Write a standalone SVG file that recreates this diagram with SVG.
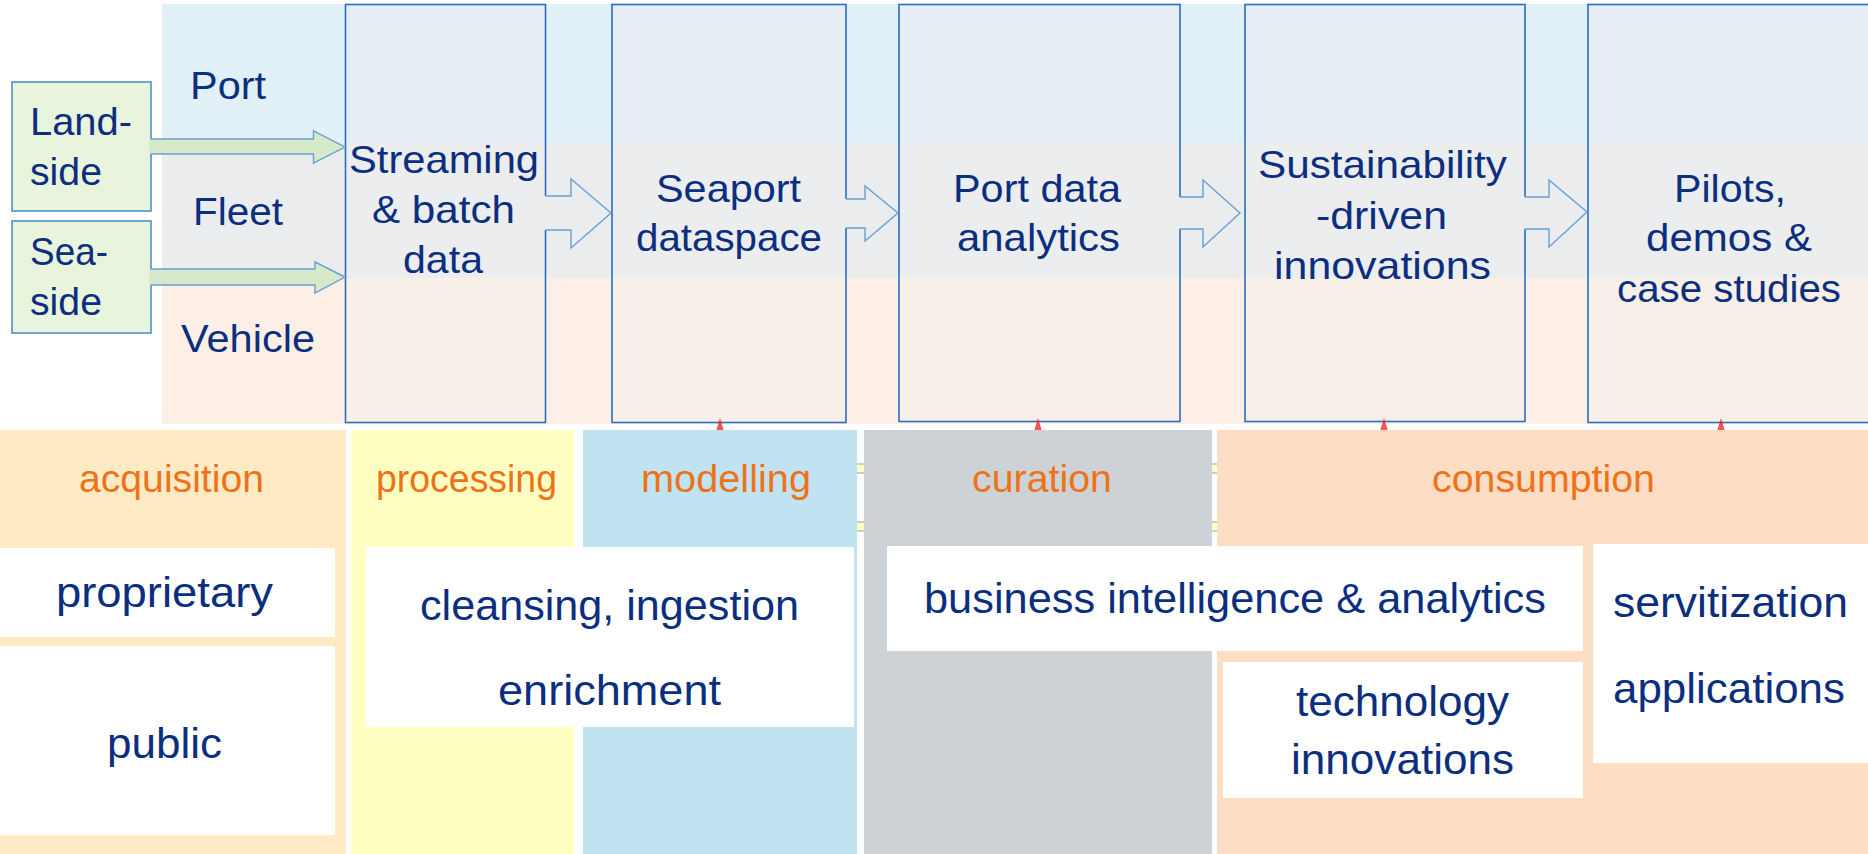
<svg xmlns="http://www.w3.org/2000/svg" width="1868" height="854" viewBox="0 0 1868 854">
<style>
text{font-family:"Liberation Sans",Arial,sans-serif;}
.t{fill:#0B2F7E;font-size:39px;}
.w{fill:#0B2F7E;font-size:42px;}
.o{fill:#EE7219;font-size:38px;}
.box{fill:#F0F0F0;fill-opacity:0.3;stroke:#2A6FC0;stroke-width:1.6;}
.gbox{fill:#E9F4DC;stroke:#3F8ACB;stroke-width:1.5;}
.afill{fill:#EBECEE;stroke:none;}
.aline{fill:none;stroke:#6A9FD3;stroke-width:1.4;stroke-linejoin:miter;}
.gfill{fill:#D6E9C8;stroke:none;}
.wb{fill:#FFFFFF;}
.red{fill:#FF1A1A;fill-opacity:0.75;}
.art{fill:#FFFFC6;stroke:#BDBDBD;stroke-width:1.5;}
</style>
<rect x="0" y="0" width="1868" height="854" fill="#FFFFFF"/>
<g id="bands">
<rect x="162" y="4" width="1706" height="139" fill="#E2F0F8"/>
<rect x="162" y="143" width="1706" height="135" fill="#EBECEE"/>
<rect x="162" y="278" width="1706" height="146" fill="#FDEFE6"/>
<text class="t" x="190" y="99" textLength="76" lengthAdjust="spacingAndGlyphs">Port</text>
<text class="t" x="193" y="225" textLength="90" lengthAdjust="spacingAndGlyphs">Fleet</text>
<text class="t" x="181" y="352" textLength="134" lengthAdjust="spacingAndGlyphs">Vehicle</text>
</g>
<g id="landside">
<rect class="gbox" x="12" y="82" width="139" height="129"/>
<text class="t" x="30" y="135" textLength="102" lengthAdjust="spacingAndGlyphs">Land-</text>
<text class="t" x="30" y="185" textLength="72" lengthAdjust="spacingAndGlyphs">side</text>
</g>
<g id="seaside">
<rect class="gbox" x="12" y="221" width="139" height="112"/>
<text class="t" x="30" y="265" textLength="78" lengthAdjust="spacingAndGlyphs">Sea-</text>
<text class="t" x="30" y="315" textLength="72" lengthAdjust="spacingAndGlyphs">side</text>
</g>
<g id="streaming">
<rect class="box" x="345.5" y="4.5" width="200" height="418"/>
<text class="t" x="349" y="173" textLength="190" lengthAdjust="spacingAndGlyphs">Streaming</text>
<text class="t" x="372" y="223" textLength="143" lengthAdjust="spacingAndGlyphs">&amp; batch</text>
<text class="t" x="403" y="273" textLength="80" lengthAdjust="spacingAndGlyphs">data</text>
</g>
<g id="seaport">
<rect class="box" x="612" y="4.5" width="234" height="418"/>
<text class="t" x="656" y="202" textLength="145" lengthAdjust="spacingAndGlyphs">Seaport</text>
<text class="t" x="636" y="251" textLength="186" lengthAdjust="spacingAndGlyphs">dataspace</text>
</g>
<g id="portdata">
<rect class="box" x="899" y="4.5" width="281" height="417"/>
<text class="t" x="953" y="202" textLength="168" lengthAdjust="spacingAndGlyphs">Port data</text>
<text class="t" x="957" y="251" textLength="163" lengthAdjust="spacingAndGlyphs">analytics</text>
</g>
<g id="sustainability">
<rect class="box" x="1245" y="4.5" width="280" height="417"/>
<text class="t" x="1258" y="178" textLength="249" lengthAdjust="spacingAndGlyphs">Sustainability</text>
<text class="t" x="1316" y="229" textLength="131" lengthAdjust="spacingAndGlyphs">-driven</text>
<text class="t" x="1274" y="279" textLength="217" lengthAdjust="spacingAndGlyphs">innovations</text>
</g>
<g id="pilots">
<rect class="box" x="1588" y="4.5" width="300" height="418"/>
<text class="t" x="1674" y="202" textLength="112" lengthAdjust="spacingAndGlyphs">Pilots,</text>
<text class="t" x="1646" y="251" textLength="166" lengthAdjust="spacingAndGlyphs">demos &amp;</text>
<text class="t" x="1617" y="302" textLength="224" lengthAdjust="spacingAndGlyphs">case studies</text>
</g>
<g id="connectors">
<path class="gfill" d="M149,139 H313.5 V131 L345,147 L313.5,163 V154 H149 Z"/>
<polyline class="aline" points="151,139 313.5,139 313.5,131 345,147 313.5,163 313.5,154 151,154"/>
<path class="gfill" d="M149,269 H315 V262 L345,277 L315,293 V285 H149 Z"/>
<polyline class="aline" points="151,269 315,269 315,262 345,277 315,293 315,285 151,285"/>
<path class="afill" d="M544,196 H571 V179 L611,213 L571,248 V230 H544 Z"/>
<polyline class="aline" points="545.5,196 571,196 571,179 611,213 571,248 571,230 545.5,230"/>
<path class="afill" d="M845,199 H865 V186 L898,213 L865,241 V228 H845 Z"/>
<polyline class="aline" points="846,199 865,199 865,186 898,213 865,241 865,228 846,228"/>
<path class="afill" d="M1179,197 H1203 V180 L1240,213 L1203,247 V229 H1179 Z"/>
<polyline class="aline" points="1180,197 1203,197 1203,180 1240,213 1203,247 1203,229 1180,229"/>
<path class="afill" d="M1524,197 H1549 V180 L1587,212 L1549,247 V229 H1524 Z"/>
<polyline class="aline" points="1525,197 1549,197 1549,180 1587,212 1549,247 1549,229 1525,229"/>
<polygon class="red" points="720,418 716,431 724,431"/>
<polygon class="red" points="1038,418 1034,431 1042,431"/>
<polygon class="red" points="1384,418 1380,431 1388,431"/>
<polygon class="red" points="1721,418 1717,431 1725,431"/>
</g>
<g id="artifacts">
<rect class="art" x="855" y="464" width="11" height="9"/>
<rect class="art" x="855" y="522" width="11" height="9"/>
<rect class="art" x="1210" y="464" width="9" height="9"/>
<rect class="art" x="1210" y="522" width="9" height="9"/>
</g>
<g id="acquisition">
<rect x="0" y="430" width="346" height="424" fill="#FEEBC4"/>
<text class="o" x="79" y="492" textLength="185" lengthAdjust="spacingAndGlyphs">acquisition</text>
</g>
<g id="processing">
<rect x="351" y="430" width="223" height="424" fill="#FFFFC2"/>
<text class="o" x="376" y="492" textLength="181" lengthAdjust="spacingAndGlyphs">processing</text>
</g>
<g id="modelling">
<rect x="583" y="430" width="274" height="424" fill="#C0E3F2"/>
<text class="o" x="641" y="492" textLength="170" lengthAdjust="spacingAndGlyphs">modelling</text>
</g>
<g id="curation">
<rect x="864" y="430" width="348" height="424" fill="#CDD2D6"/>
<text class="o" x="972" y="492" textLength="140" lengthAdjust="spacingAndGlyphs">curation</text>
</g>
<g id="consumption">
<rect x="1217" y="430" width="651" height="424" fill="#FDDEC4"/>
<text class="o" x="1432" y="492" textLength="223" lengthAdjust="spacingAndGlyphs">consumption</text>
</g>
<g id="proprietary">
<rect class="wb" x="0" y="548" width="335" height="89"/>
<text class="w" x="56" y="607" textLength="217" lengthAdjust="spacingAndGlyphs">proprietary</text>
</g>
<g id="public">
<rect class="wb" x="0" y="646" width="335" height="189"/>
<text class="w" x="107" y="758" textLength="115" lengthAdjust="spacingAndGlyphs">public</text>
</g>
<g id="cleansing">
<rect class="wb" x="366" y="547" width="488" height="180"/>
<text class="w" x="420" y="620" textLength="379" lengthAdjust="spacingAndGlyphs">cleansing, ingestion</text>
<text class="w" x="498" y="705" textLength="223" lengthAdjust="spacingAndGlyphs">enrichment</text>
</g>
<g id="business">
<rect class="wb" x="887" y="546" width="696" height="105"/>
<text class="w" x="924" y="613" textLength="622" lengthAdjust="spacingAndGlyphs">business intelligence &amp; analytics</text>
</g>
<g id="technology">
<rect class="wb" x="1223" y="662" width="360" height="136"/>
<text class="w" x="1296" y="716" textLength="213" lengthAdjust="spacingAndGlyphs">technology</text>
<text class="w" x="1291" y="774" textLength="223" lengthAdjust="spacingAndGlyphs">innovations</text>
</g>
<g id="servitization">
<rect class="wb" x="1593" y="544" width="275" height="219"/>
<text class="w" x="1613" y="617" textLength="235" lengthAdjust="spacingAndGlyphs">servitization</text>
<text class="w" x="1613" y="703" textLength="232" lengthAdjust="spacingAndGlyphs">applications</text>
</g>
</svg>
